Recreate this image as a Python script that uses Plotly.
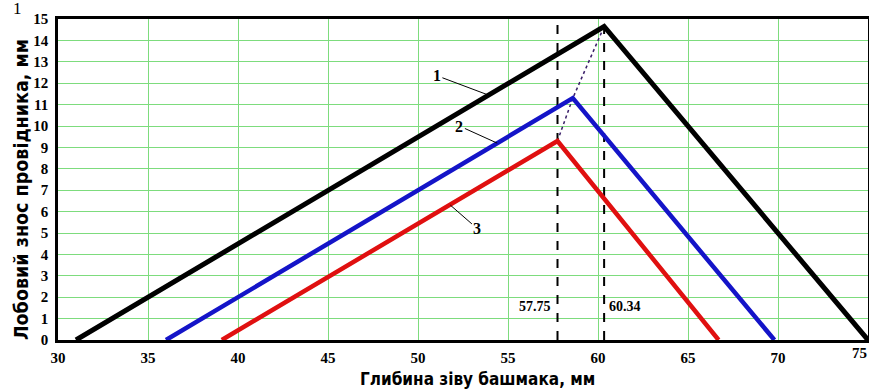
import plotly.graph_objects as go

# Data
depth1 = [31.0, 60.34, 75.0]
wear1 = [0.0, 14.65, 0.0]
depth2 = [36.0, 58.6, 69.8]
wear2 = [0.0, 11.3, 0.0]
depth3 = [39.1, 57.75, 66.7]
wear3 = [0.0, 9.3, 0.0]
vlines = [57.75, 60.34]
vline_labels = ["57.75", "60.34"]
x_ticks = [30, 35, 40, 45, 50, 55, 60, 65, 70]
y_ticks = list(range(0, 16))

fig = go.Figure()

grid = "#7ddc7d"
serif = "Liberation Serif"
title_font = "DejaVu Sans Condensed"

# dotted line through peaks
fig.add_trace(go.Scatter(x=[depth3[1], depth2[1], depth1[1]], y=[wear3[1], wear2[1], wear1[1]],
                         mode="lines", line=dict(color="#3a1f6a", width=1.5, dash="dot"),
                         showlegend=False, hoverinfo="skip"))
# vertical dashed lines
for v in vlines:
    fig.add_trace(go.Scatter(x=[v, v], y=[0, 15], mode="lines",
                             line=dict(color="black", width=2, dash="dash"),
                             showlegend=False, hoverinfo="skip"))

fig.add_trace(go.Scatter(x=depth1, y=wear1, mode="lines", line=dict(color="black", width=5),
                         showlegend=False))
fig.add_trace(go.Scatter(x=depth2, y=wear2, mode="lines", line=dict(color="#1414c8", width=4.5),
                         showlegend=False))
fig.add_trace(go.Scatter(x=depth3, y=wear3, mode="lines", line=dict(color="#e01010", width=4.5),
                         showlegend=False))

ann = []
# curve labels with leader lines
labels = [("1", 53.9, 11.45, 51.05, 12.35),
          ("2", 54.4, 9.2, 52.3, 10.0),
          ("3", 51.8, 6.3, 53.3, 5.2)]
for t, x, y, axp, ayp in labels:
    ann.append(dict(text="<b>%s</b>" % t, x=x, y=y, ax=axp, ay=ayp, xref="x", yref="y",
                    axref="x", ayref="y", showarrow=True, arrowhead=0, arrowwidth=1,
                    arrowcolor="black",
                    font=dict(family=serif, size=16, color="black")))
ann.append(dict(text="<b>%s</b>" % vline_labels[0], x=vlines[0], y=1.55, xref="x", yref="y",
                xanchor="right", xshift=-5, showarrow=False,
                font=dict(family=serif, size=14, color="black")))
ann.append(dict(text="<b>%s</b>" % vline_labels[1], x=vlines[1], y=1.55, xref="x", yref="y",
                xanchor="left", xshift=3, showarrow=False,
                font=dict(family=serif, size=14, color="black")))
# last x tick label, kept inside the page
ann.append(dict(text="<b>75</b>", x=75, y=0, xref="x", yref="paper", xanchor="right",
                yanchor="top", xshift=1, yshift=-3, showarrow=False,
                font=dict(family=serif, size=15, color="black")))
# axis titles
ann.append(dict(text="<b>Глибина зіву башмака, мм</b>", x=(477 - 58) / 810, y=-(379 - 340) / 321,
                xref="paper", yref="paper", xanchor="center", yanchor="middle",
                showarrow=False, font=dict(family=title_font, size=17, color="black")))
ann.append(dict(text="<b>Лобовий знос провідника, мм</b>", textangle=-90,
                x=-(58 - 22) / 810, y=(340 - 190) / 321, xref="paper", yref="paper",
                xanchor="center", yanchor="middle", showarrow=False,
                font=dict(family=title_font, size=19.5, color="black")))
ann.append(dict(text="1", x=-(58 - 17) / 810, y=1 + 11 / 321, xref="paper", yref="paper",
                xanchor="center", yanchor="middle", showarrow=False,
                font=dict(family=serif, size=17, color="black")))

fig.update_layout(
    width=869, height=390,
    margin=dict(l=58, r=1, t=19, b=50, autoexpand=False),
    plot_bgcolor="white", paper_bgcolor="white",
    annotations=ann,
    xaxis=dict(range=[30, 75], tickvals=x_ticks, ticktext=["<b>%d</b>" % v for v in x_ticks],
               showgrid=True, gridcolor=grid, gridwidth=1,
               zeroline=False, showline=True, linecolor="black", linewidth=2.5, mirror=True,
               ticks="", automargin=False,
               tickfont=dict(family=serif, size=15, color="black"),
               ticklabelstandoff=2),
    yaxis=dict(range=[0, 15], tickvals=y_ticks, ticktext=["<b>%d</b>" % v for v in y_ticks],
               showgrid=True, gridcolor=grid, gridwidth=1,
               zeroline=False, showline=True, linecolor="black", linewidth=2.5, mirror=True,
               ticks="", automargin=False,
               tickfont=dict(family=serif, size=15, color="black"),
               ticklabelstandoff=4),
)

fig.write_html("out.html", config={"responsive": False, "displayModeBar": False},
               post_script="document.body.style.margin='0';document.body.style.overflow='hidden';")
